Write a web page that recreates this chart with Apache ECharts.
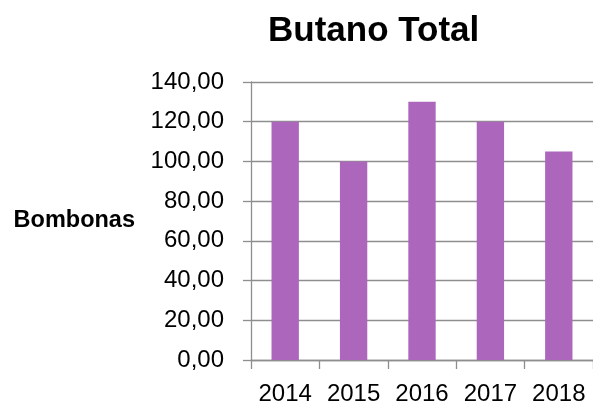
<!DOCTYPE html>
<html>
<head>
<meta charset="utf-8">
<script src="https://cdn.jsdelivr.net/npm/echarts@6/dist/echarts.min.js"></script>
<style>
html,body{margin:0;padding:0;background:#fff;}
#chart{width:593px;height:406px;}
</style>
</head>
<body>
<div id="chart"></div>
<script>
var categories = ['2014', '2015', '2016', '2017', '2018'];
var butanoValues = [120, 100, 130, 120, 105];
var yTickMin = 0;
var yTickMax = 140;
var yTickStep = 20;

var chart = echarts.init(document.getElementById('chart'), null, {renderer: 'canvas'});
var gridColor = '#8E8E8E';
var font = '"Liberation Sans", Arial, sans-serif';
chart.setOption({
  animation: false,
  backgroundColor: '#ffffff',
  title: {
    text: 'Butano Total',
    left: 263,
    top: 9,
    textStyle: {fontFamily: font, fontWeight: 'bold', fontSize: 35, color: '#000'}
  },
  grid: {left: 251, right: -2, top: 82, bottom: 44, containLabel: false},
  xAxis: {
    type: 'category',
    data: categories,
    boundaryGap: true,
    axisLine: {show: true, lineStyle: {color: gridColor, width: 1.3}},
    axisTick: {show: true, length: 9, lineStyle: {color: gridColor, width: 1.3}},
    axisLabel: {color: '#000', fontFamily: font, fontSize: 24, margin: 22, interval: 0, hideOverlap: false},
    splitLine: {show: false}
  },
  yAxis: {
    type: 'value',
    min: yTickMin,
    max: yTickMax,
    interval: yTickStep,
    name: 'Bombonas',
    nameLocation: 'middle',
    nameRotate: 0,
    nameGap: 116,
    nameTextStyle: {fontFamily: font, fontWeight: 'bold', fontSize: 23.5, color: '#000'},
    axisLine: {show: true, lineStyle: {color: gridColor, width: 1.3}},
    axisTick: {show: true, length: 8, lineStyle: {color: gridColor, width: 1.3}},
    axisLabel: {
      color: '#000', fontFamily: font, fontSize: 24, margin: 27,
      formatter: function (v) { return v.toFixed(2).replace('.', ','); }
    },
    splitLine: {show: true, lineStyle: {color: gridColor, width: 1.3}}
  },
  series: [{
    type: 'bar',
    data: butanoValues,
    barWidth: '40%',
    itemStyle: {color: '#AC67BD'}
  }]
});
</script>
</body>
</html>
